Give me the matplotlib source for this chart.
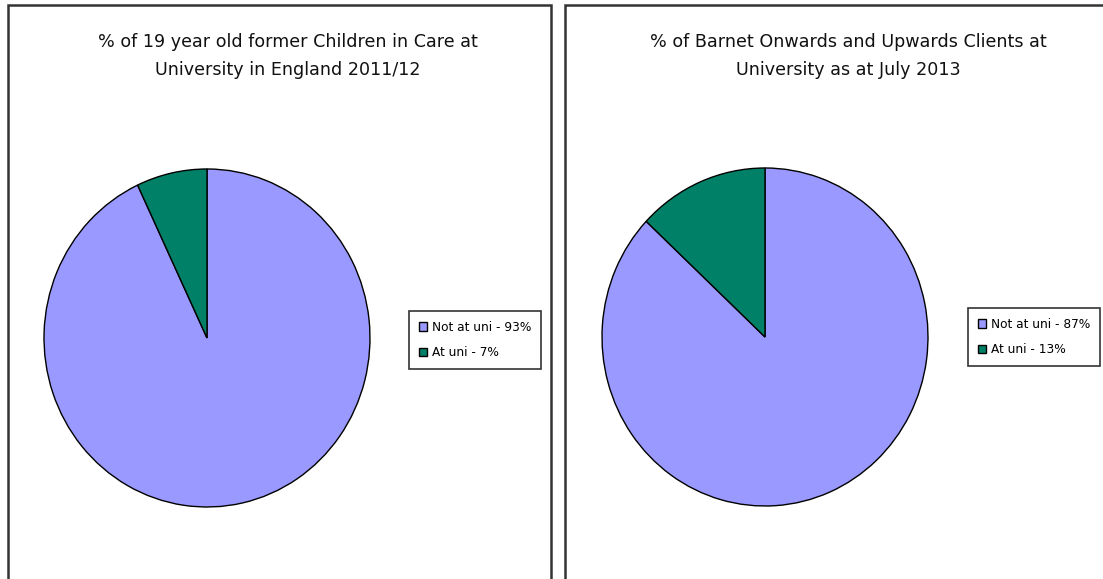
import matplotlib
matplotlib.use('Agg')
import matplotlib.pyplot as plt
from matplotlib.patches import Rectangle, Patch

W, H = 1103, 579

# data
titles = ['% of 19 year old former Children in Care at\nUniversity in England 2011/12',
          '% of Barnet Onwards and Upwards Clients at\nUniversity as at July 2013']
labels = ['Not at uni', 'At uni']
values_left = [93, 7]
values_right = [87, 13]
colors = ['#9999FF', '#008066']

plt.rcParams['font.family'] = ['DejaVu Sans']

fig = plt.figure(figsize=(W / 100, H / 100), dpi=100)


def px_rect(x0, y0, x1, y1):
    # pixel box (top-left origin) -> figure fraction [l, b, w, h]
    return [x0 / W, 1 - y1 / H, (x1 - x0) / W, (y1 - y0) / H]


# panel frames
for x0, x1 in [(7.5, 551), (565, 1110)]:
    fig.patches.append(Rectangle((x0 / W, -0.05), (x1 - x0) / W, 1.05 - 4.5 / H,
                                 transform=fig.transFigure, fill=False,
                                 edgecolor='#333333', linewidth=1.8))

panels = [
    dict(vals=values_left, title=titles[0], tx=288, pie=(44, 169, 370, 507),
         leg=(409, 311, 546, 368)),
    dict(vals=values_right, title=titles[1], tx=848, pie=(602, 168, 928, 506),
         leg=(968, 308, 1101, 366)),
]

for p in panels:
    ax = fig.add_axes(px_rect(*p['pie']))
    ax.pie(p['vals'], colors=colors, startangle=90, counterclock=False,
           wedgeprops=dict(edgecolor='black', linewidth=1.0))
    ax.set_aspect('auto')
    ax.set_xlim(-1, 1)
    ax.set_ylim(-1, 1)
    ax.axis('off')

    fig.text(p['tx'] / W, 1 - 56 / H, p['title'], ha='center', va='center',
             fontsize=12.6, linespacing=1.65, color='#111111')

    handles = [Patch(facecolor=c, edgecolor='black', linewidth=1.0) for c in colors]
    leg_labels = [f'{l} - {v}%' for l, v in zip(labels, p['vals'])]
    lx0, ly0, lx1, ly1 = p['leg']
    leg = fig.legend(handles, leg_labels, loc='upper left',
                     bbox_to_anchor=(lx0 / W, 1 - ly0 / H), bbox_transform=fig.transFigure,
                     fontsize=8.7, frameon=True, fancybox=False, handlelength=0.7,
                     handleheight=0.7, handletextpad=0.4, borderpad=0.8,
                     labelspacing=1.05, borderaxespad=0)
    leg.get_frame().set_edgecolor('black')
    leg.get_frame().set_linewidth(1.2)

fig.savefig('out.png', dpi=100)
